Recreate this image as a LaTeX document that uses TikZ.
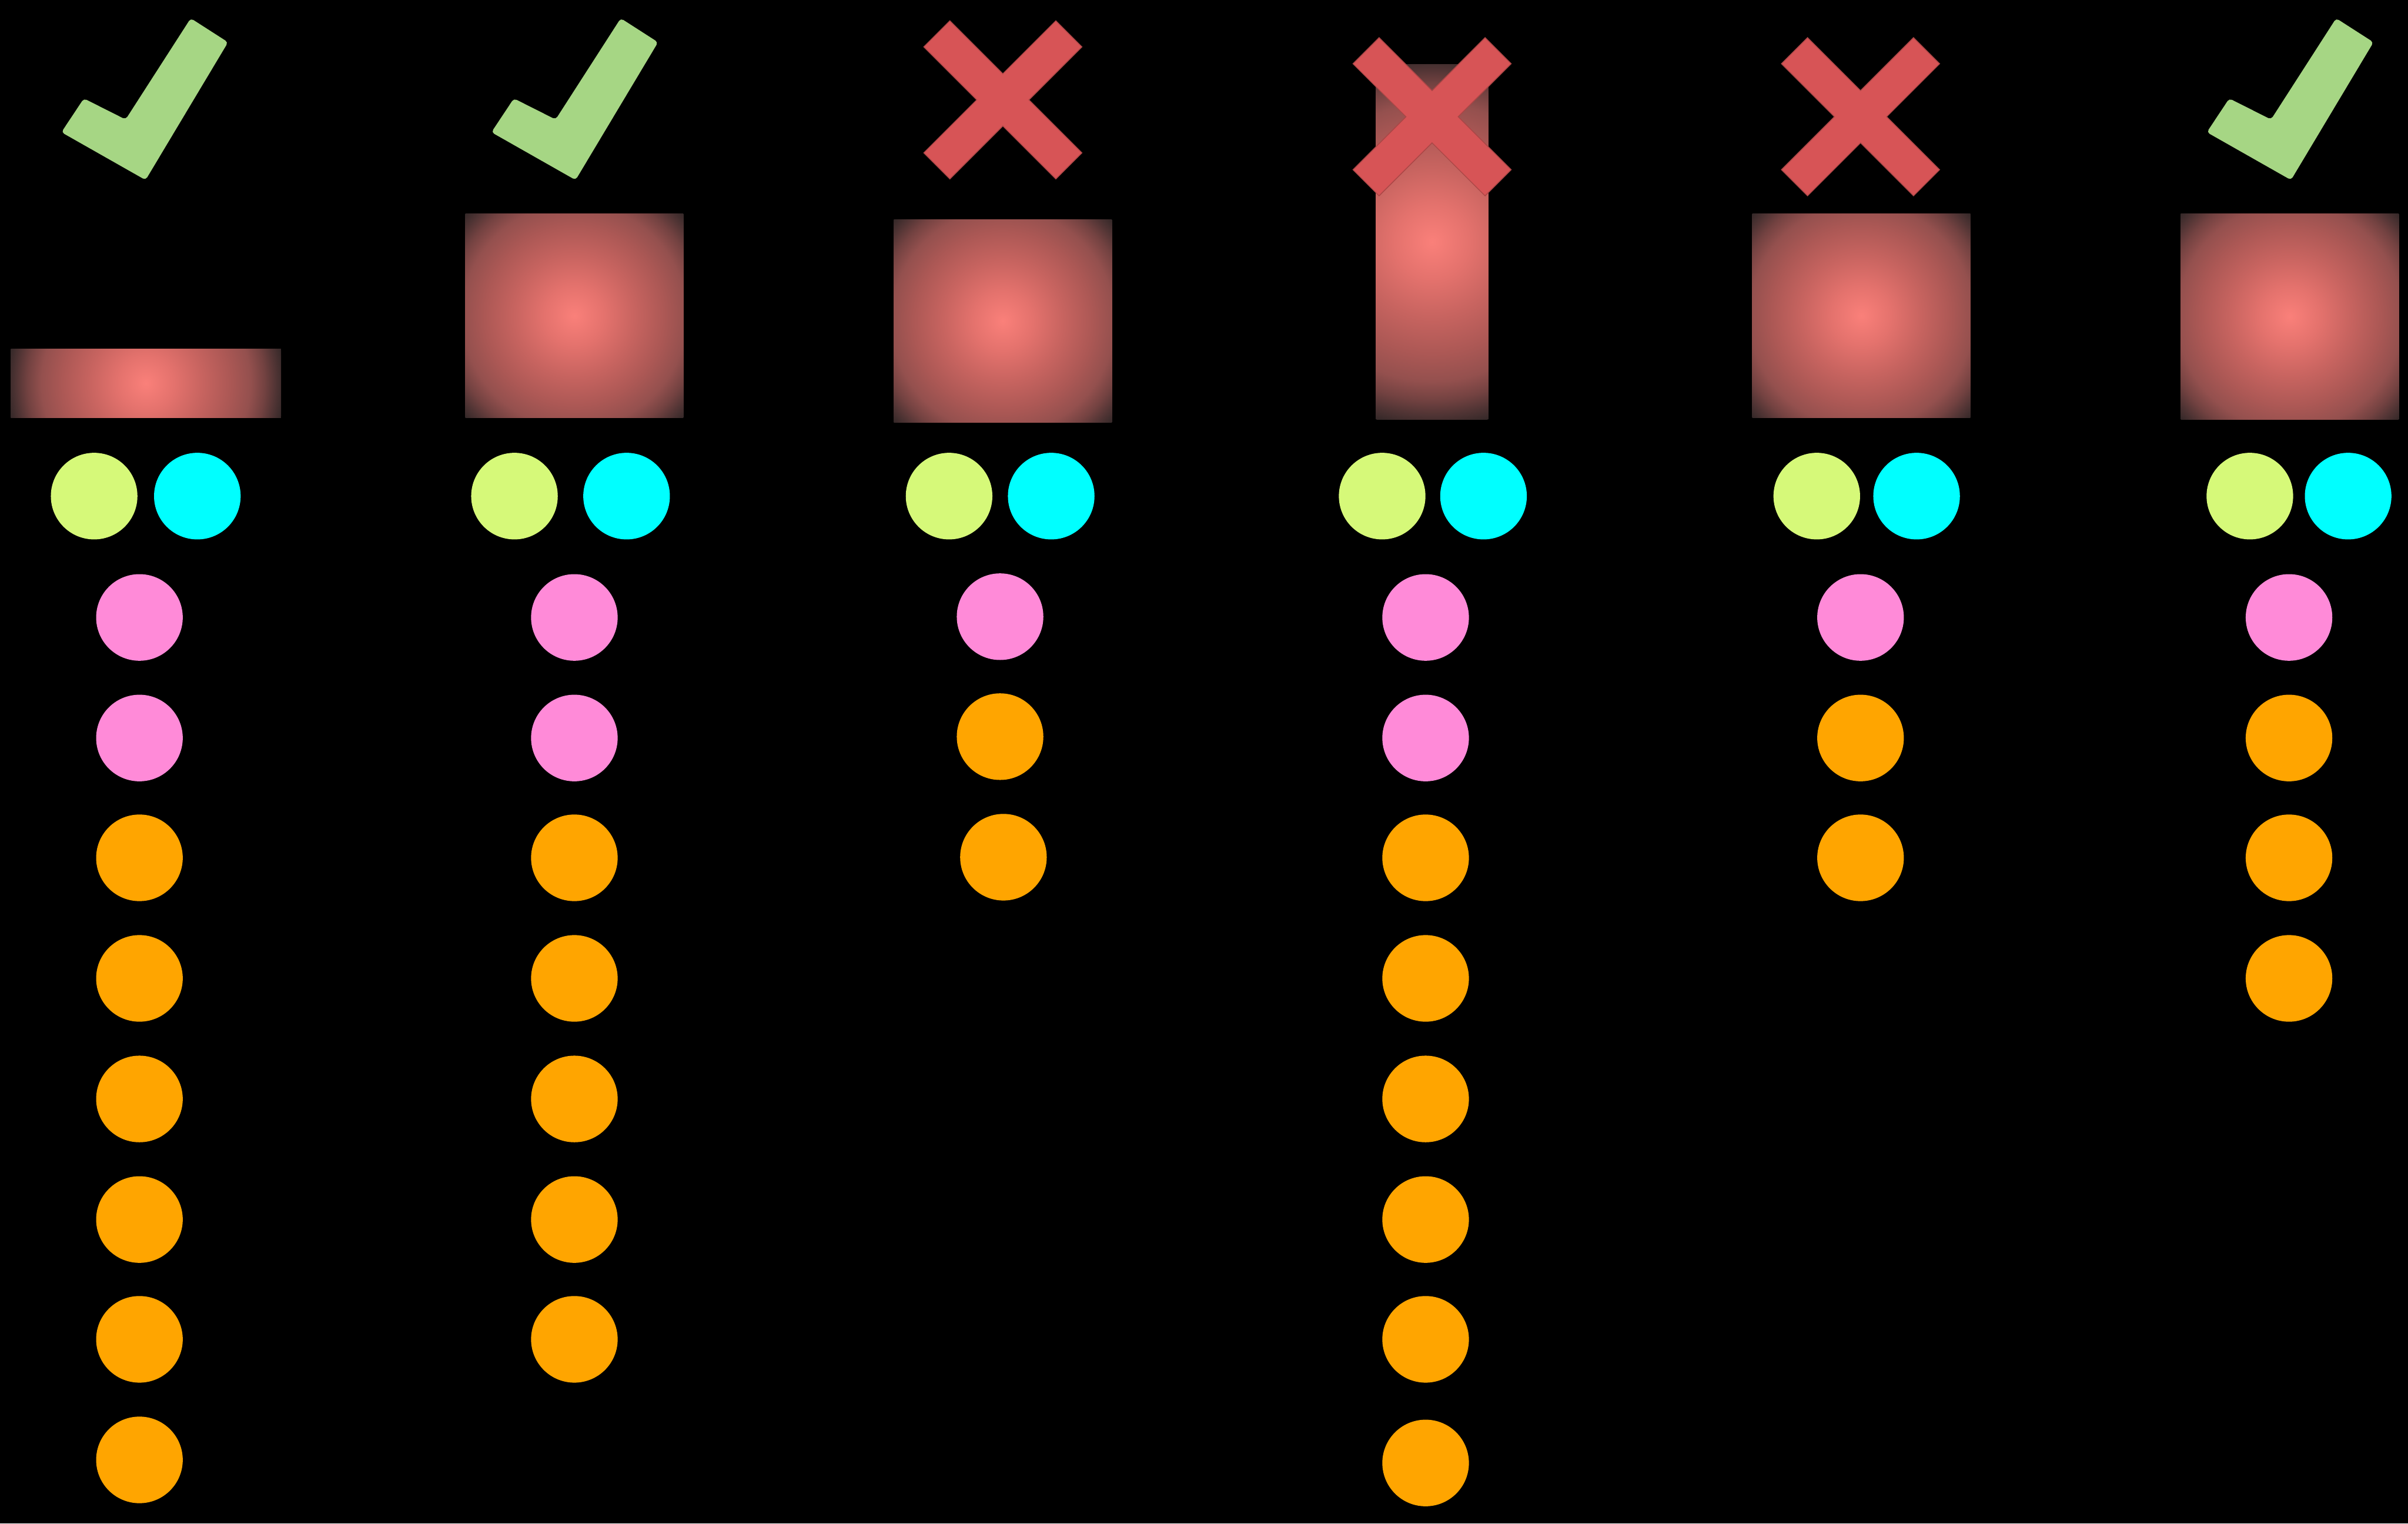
\documentclass[tikz,border=0pt]{standalone}
\usetikzlibrary{calc}
\definecolor{cYel}{RGB}{214,249,121}
\definecolor{cCyan}{RGB}{0,255,255}
\definecolor{cPink}{RGB}{255,138,216}
\definecolor{cOrange}{RGB}{255,165,0}
\definecolor{cGreen}{RGB}{166,214,132}
\definecolor{cRed}{RGB}{215,84,86}
\definecolor{cRedLine}{RGB}{170,70,70}
\pgfdeclareradialshading{glow}{\pgfpoint{0bp}{0bp}}{%
rgb(0bp)=(0.980,0.502,0.478);
rgb(5bp)=(0.894,0.447,0.427);
rgb(10bp)=(0.784,0.392,0.376);
rgb(15bp)=(0.675,0.345,0.333);
rgb(18.75bp)=(0.580,0.314,0.306);
rgb(21.25bp)=(0.451,0.259,0.255);
rgb(23.25bp)=(0.314,0.204,0.204);
rgb(25bp)=(0.204,0.157,0.157);
rgb(50bp)=(0.204,0.157,0.157)}
\tikzset{
  dot/.style={circle, inner sep=0pt, minimum size=1.128cm, draw=none},
  ydot/.style={dot, fill=cYel},
  cdot/.style={dot, fill=cCyan},
  pdot/.style={dot, fill=cPink},
  odot/.style={dot, fill=cOrange},
  okmark/.pic={\fill[cGreen, rounded corners=0.04cm]
     (40,86.1) -- (54.6,64.1) -- (81.8,77.8) -- (124.2,11.9) -- (148.5,27.5) -- (94.8,117.2) -- cycle;},
  nomark/.pic={\filldraw[fill=cRed, draw=cRedLine, line width=0.3pt]
     (-51.5,-34.5) -- (-34.5,-51.5) -- (0,-17) -- (34.5,-51.5) -- (51.5,-34.5) -- (17,0)
     -- (51.5,34.5) -- (34.5,51.5) -- (0,17) -- (-34.5,51.5) -- (-51.5,34.5) -- (-17,0) -- cycle;}
}
\newcommand{\glowbox}[6]{% x1 y1 x2 y2 cx cy -- radius computed
  \begin{scope}
    \clip (#1,#2) rectangle (#3,#4);
    \pgfmathsetmacro{\gr}{sqrt((#3-#5)*(#3-#5)+(#4-#6)*(#4-#6))}
    \shade[shading=glow] (#5,#6) circle[radius=\gr];
  \end{scope}}
\begin{document}
\begin{tikzpicture}[x=0.02cm, y=-0.02cm]
\fill[black] (0,0) rectangle (1568,992);
\useasboundingbox (0,0) rectangle (1568,992);

% shaded boxes
\glowbox{7}{227}{183}{272}{95}{249.5}
\glowbox{303}{139}{445}{272}{374}{205.5}
\glowbox{582}{143}{724}{275}{653}{209}
\glowbox{896}{42}{969}{273}{932.5}{157.5}
\glowbox{1141}{139}{1283}{272}{1212}{205.5}
\glowbox{1420}{139}{1562}{273}{1491}{206}

% marks
\pic (ok1) at (0,0) {okmark};
\pic (ok2) at (280,0) {okmark};
\pic (ok6) at (1397,0) {okmark};
\pic (no3) at (653,65) {nomark};
\pic (no4) at (932.5,76) {nomark};
\pic (no5) at (1211.5,76) {nomark};

% top pairs
\foreach \n/\a/\b in {1/61.3/128.5, 2/335/408, 3/618/684.5, 4/900/966, 5/1183/1248, 6/1465/1529}{
  \node[ydot] (y\n) at (\a,323) {};
  \node[cdot] (c\n) at (\b,323) {};
}

% column 1
\node[pdot] (a1) at (90.8,402) {};
\node[pdot] (a2) at (90.8,480.5) {};
\foreach \i/\y in {3/558.5,4/637,5/715.5,6/794,7/872,8/950.5}{\node[odot] (a\i) at (90.8,\y) {};}
% column 2
\node[pdot] (b1) at (374,402) {};
\node[pdot] (b2) at (374,480.5) {};
\foreach \i/\y in {3/558.5,4/637,5/715.5,6/794,7/872}{\node[odot] (b\i) at (374,\y) {};}
% column 3
\node[pdot] (d1) at (651.2,401.5) {};
\node[odot] (d2) at (651.2,479.6) {};
\node[odot] (d3) at (653.4,558.1) {};
% column 4
\node[pdot] (e1) at (928.3,402) {};
\node[pdot] (e2) at (928.3,480.5) {};
\foreach \i/\y in {3/558.5,4/637,5/715.5,6/794,7/872,8/952.5}{\node[odot] (e\i) at (928.3,\y) {};}
% column 5
\node[pdot] (f1) at (1211.5,402) {};
\node[odot] (f2) at (1211.5,480.5) {};
\node[odot] (f3) at (1211.5,558.5) {};
% column 6
\node[pdot] (g1) at (1490.5,402) {};
\foreach \i/\y in {2/480.5,3/558.5,4/637}{\node[odot] (g\i) at (1490.5,\y) {};}
\end{tikzpicture}
\end{document}
